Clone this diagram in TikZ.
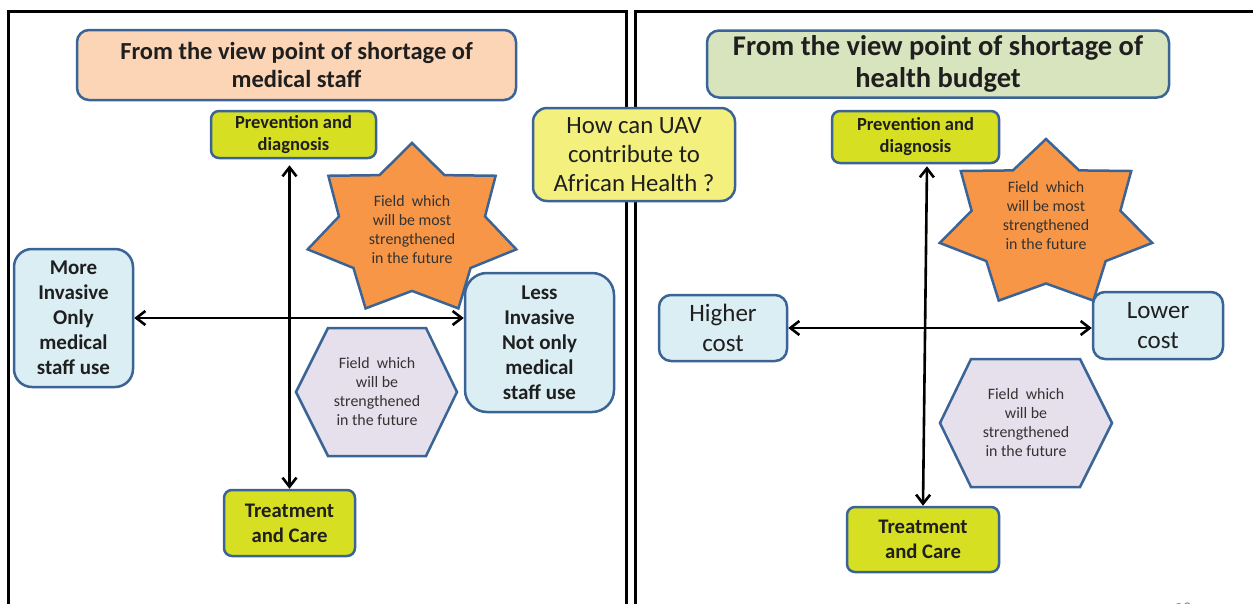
\documentclass[tikz,border=0pt]{standalone}
\usepackage{fontspec}
\setmainfont{Carlito}
\usetikzlibrary{arrows.meta}

\definecolor{edgeblue}{RGB}{59,100,150}
\definecolor{peach}{RGB}{251,213,181}
\definecolor{sage}{RGB}{215,228,189}
\definecolor{lime}{RGB}{215,223,35}
\definecolor{paleblue}{RGB}{219,238,244}
\definecolor{lemon}{RGB}{243,240,125}
\definecolor{starorange}{RGB}{247,150,70}
\definecolor{lavender}{RGB}{229,224,236}

\tikzset{
	box/.style={draw=edgeblue, line width=2.5pt, rounded corners=10pt, align=center, inner sep=0pt, text=black!88},
	titlebox/.style={box, rounded corners=12pt},
	stagebox/.style={box, fill=lime, rounded corners=8pt, font=\bfseries\fontsize{18.5}{22}\selectfont},
	sidebox/.style={box, fill=paleblue, rounded corners=18pt},
	fieldstar/.style={draw=edgeblue, line width=2.5pt, fill=starorange},
	fieldhex/.style={draw=edgeblue, line width=2.5pt, fill=lavender},
	fieldtext/.style={align=center, inner sep=0pt, text=black!80, font=\fontsize{15.9}{19}\selectfont},
	biarrow/.style={line width=2.6pt, {Straight Barb[length=9pt,width=14pt]}-{Straight Barb[length=9pt,width=14pt]}},
	frame/.style={line width=3pt}
}

\begin{document}
\begin{tikzpicture}[x=1pt, y=-1pt]
	\useasboundingbox (0, 0) rectangle (1253, 603);

	% the two panels
	\draw[frame] (8, 620) -- (8, 11) -- (626, 11) -- (626, 620);
	\draw[frame] (635, 620) -- (635, 11) -- (1270, 11);

	% stars and hexagons go under the boxes
	\filldraw[fieldstar] (412, 143)
		\foreach \k [evaluate=\k as \r using {mod(\k,2)==0 ? 1 : 0.7}] in {1,...,13} {
			-- ({412 + 107*\r*cos(90 + \k*360/14)}, {230 - 87*\r*sin(90 + \k*360/14)})
		} -- cycle;
	\filldraw[fieldstar] (1046, 139)
		\foreach \k [evaluate=\k as \r using {mod(\k,2)==0 ? 1 : 0.7}] in {1,...,13} {
			-- ({1046 + 109*\r*cos(90 + \k*360/14)}, {224 - 85*\r*sin(90 + \k*360/14)})
		} -- cycle;
	\filldraw[fieldhex] (296, 392) -- (328, 328) -- (426, 328) -- (457, 392) -- (426, 456) -- (328, 456) -- cycle;
	\filldraw[fieldhex] (940, 423) -- (971, 359) -- (1080, 359) -- (1112, 423) -- (1080, 487) -- (971, 487) -- cycle;

	\node[fieldtext] (starL) at (412, 230) {Field~ which\\will be most\\strengthened\\in the future};
	\node[fieldtext] (starR) at (1046, 216) {Field~ which\\will be most\\strengthened\\in the future};
	\node[fieldtext] (hexL) at (377, 392) {Field~ which\\will be\\strengthened\\in the future};
	\node[fieldtext] (hexR) at (1026, 423) {Field~ which\\will be\\strengthened\\in the future};

	% left panel: medical staff
	\node[titlebox, fill=peach, minimum width=439, minimum height=70, font=\bfseries\fontsize{24.5}{28}\selectfont] (titleL) at (296.5, 65) {From the view point of shortage of\\medical staff};
	\node[stagebox, minimum width=165, minimum height=47] (prevL) at (293.5, 134.5) {Prevention and\\diagnosis};
	\node[stagebox, minimum width=131, minimum height=66, font=\bfseries\fontsize{20.7}{25}\selectfont] (treatL) at (289.5, 523) {Treatment\\and Care};
	\node[sidebox, minimum width=119, minimum height=138, font=\bfseries\fontsize{21}{25}\selectfont] (moreL) at (73.5, 318) {More\\Invasive\\Only\\medical\\staff use};
	\node[sidebox, minimum width=149, minimum height=139, rounded corners=22pt, font=\bfseries\fontsize{21}{25}\selectfont] (lessL) at (539.5, 342.5) {Less\\Invasive\\Not only\\medical\\staff use};

	% question in the middle
	\node[box, fill=lemon, minimum width=202, minimum height=93, rounded corners=14pt, font=\fontsize{24.8}{29}\selectfont] (uav) at (634, 154.5) {How can UAV\\contribute to\\African Health ?};

	% right panel: health budget
	\node[titlebox, fill=sage, minimum width=462, minimum height=67, font=\bfseries\fontsize{28.5}{32}\selectfont] (titleR) at (938, 64) {From the view point of shortage of\\health budget};
	\node[stagebox, minimum width=167, minimum height=52] (prevR) at (915.5, 137) {Prevention and\\diagnosis};
	\node[stagebox, minimum width=152, minimum height=65, font=\bfseries\fontsize{20.7}{25}\selectfont] (treatR) at (923, 539.5) {Treatment\\and Care};
	\node[sidebox, minimum width=128, minimum height=66, rounded corners=12pt, font=\fontsize{25}{30}\selectfont] (higher) at (723, 328) {Higher\\cost};
	\node[sidebox, minimum width=130, minimum height=67, rounded corners=12pt, font=\fontsize{25}{30}\selectfont] (lower) at (1158, 325.5) {Lower\\cost};

	\draw[biarrow, shorten <=6pt] (treatL.north |- prevL.south) -- (treatL.north);
	\draw[biarrow] (moreL.east) -- (moreL.east -| lessL.west);
	\draw[biarrow, shorten <=2pt] ([xshift=11.5pt]prevR.south) -- (treatR.north);
	\draw[biarrow] (higher.east) -- (higher.east -| lower.west);

	\node[text=black!45, font=\fontsize{17}{20}\selectfont] (page) at (1183, 609) {28};
\end{tikzpicture}
\end{document}
